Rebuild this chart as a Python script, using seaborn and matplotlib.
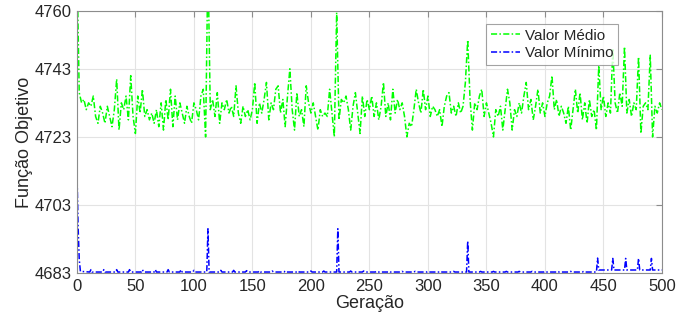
import numpy as np
import pandas as pd
import matplotlib
matplotlib.use("Agg")
import matplotlib.pyplot as plt
import seaborn as sns

# Valor Médio, read every 2 generations (0..500)
mean_gen = list(range(0, 501, 2))
mean_val = [
    4775, 4736, 4733, 4734, 4731, 4733, 4732, 4735, 4729, 4727,
    4732, 4730, 4727, 4732, 4729, 4726, 4731, 4740, 4725, 4733,
    4731, 4735, 4728, 4741, 4729, 4724, 4735, 4730, 4737, 4729,
    4731, 4728, 4730, 4727, 4731, 4726, 4733, 4725, 4734, 4728,
    4737, 4726, 4735, 4728, 4733, 4730, 4727, 4732, 4729, 4727,
    4733, 4731, 4728, 4735, 4737, 4723, 4775, 4731, 4734, 4729,
    4736, 4727, 4733, 4731, 4734, 4730, 4732, 4729, 4738, 4730,
    4727, 4732, 4729, 4731, 4728, 4731, 4739, 4727, 4733, 4730,
    4734, 4739, 4728, 4733, 4731, 4737, 4738, 4730, 4734, 4726,
    4735, 4743, 4731, 4725, 4736, 4729, 4731, 4726, 4738, 4733,
    4730, 4733, 4729, 4725, 4731, 4729, 4730, 4729, 4737, 4730,
    4723, 4759.5, 4728, 4734, 4733, 4735, 4731, 4725, 4732, 4736,
    4730, 4724, 4735, 4729, 4734, 4731, 4735, 4729, 4733, 4728,
    4732, 4739, 4729, 4733, 4728, 4737, 4730, 4734, 4731, 4733,
    4729, 4723, 4727, 4726, 4731, 4737, 4733, 4730, 4737, 4731,
    4735, 4729, 4732, 4731, 4729, 4731, 4726, 4732, 4735, 4736,
    4730, 4732, 4729, 4733, 4730, 4732, 4739, 4751.5, 4734, 4725,
    4733, 4731, 4735, 4737, 4729, 4733, 4730, 4727, 4723, 4731,
    4729, 4732, 4725, 4731, 4737, 4733, 4725, 4731, 4729, 4733,
    4730, 4735, 4739, 4731, 4734, 4728, 4732, 4737, 4730, 4733,
    4729, 4733, 4735, 4741, 4731, 4734, 4729, 4732, 4730, 4727,
    4732, 4725, 4731, 4737, 4730, 4736, 4728, 4733, 4727, 4734,
    4729, 4731, 4725, 4744, 4731, 4735, 4729, 4733, 4730, 4749,
    4733, 4730, 4736, 4732, 4749.5, 4730, 4734, 4729, 4733, 4731,
    4746.5, 4724, 4732, 4733, 4731, 4747, 4723, 4732, 4730, 4733,
    4731,
]

# Valor Mínimo, polyline vertices
min_gen = [0, 1, 2, 3,
           11, 12, 13, 22, 23, 24, 33, 34, 35, 44, 45, 46, 55, 56, 57,
           66, 67, 68, 77, 78, 79, 88, 89, 90, 99, 100, 101,
           111, 112, 113, 122, 123, 124, 133, 134, 135, 144, 145, 146,
           155, 156, 157, 166, 167, 168, 177, 178, 179, 188, 189, 190,
           199, 200, 201, 210, 211, 212, 222, 223, 224,
           233, 234, 235, 244, 245, 246, 255, 256, 257, 266, 267, 268,
           277, 278, 279, 288, 289, 290, 299, 300, 301, 310, 311, 312,
           321, 322, 323, 333, 334, 335, 344, 345, 346, 355, 356, 357,
           366, 367, 368, 377, 378, 379, 388, 389, 390, 399, 400, 401,
           410, 411, 412, 421, 422, 423, 432, 433, 434,
           444, 445, 446, 447, 457, 458, 459, 468, 469, 470,
           479, 480, 481, 490, 491, 492, 500]
min_val = [4714, 4697, 4687, 4683.5,
           4683.3, 4684.0, 4683.3, 4683.3, 4684.0, 4683.3, 4683.3, 4684.0, 4683.3,
           4683.3, 4684.0, 4683.3, 4683.3, 4684.0, 4683.3,
           4683.3, 4684.0, 4683.3, 4683.3, 4684.0, 4683.3, 4683.3, 4684.0, 4683.3,
           4683.3, 4683.8, 4683.3,
           4683.3, 4696.0, 4683.3, 4683.3, 4683.8, 4683.3, 4683.3, 4683.8, 4683.3,
           4683.3, 4683.7, 4683.3, 4683.3, 4683.7, 4683.3, 4683.3, 4683.6, 4683.3,
           4683.3, 4683.6, 4683.3, 4683.3, 4683.6, 4683.3,
           4683.3, 4683.6, 4683.3, 4683.3, 4683.6, 4683.3, 4683.3, 4696.0, 4683.3,
           4683.3, 4683.6, 4683.3, 4683.3, 4683.6, 4683.3, 4683.3, 4683.5, 4683.3,
           4683.3, 4683.5, 4683.3, 4683.3, 4683.5, 4683.3, 4683.3, 4683.5, 4683.3,
           4683.3, 4683.5, 4683.3, 4683.3, 4683.5, 4683.3,
           4683.3, 4683.5, 4683.3, 4683.3, 4692.4, 4683.3, 4683.3, 4683.5, 4683.3,
           4683.3, 4683.5, 4683.3,
           4683.3, 4683.5, 4683.3, 4683.3, 4683.5, 4683.3, 4683.3, 4683.5, 4683.3,
           4683.3, 4683.5, 4683.3,
           4683.3, 4683.5, 4683.3, 4683.3, 4683.5, 4683.3, 4683.3, 4683.5, 4683.3,
           4683.3, 4687.4, 4683.9, 4683.9, 4683.9, 4687.3, 4683.9, 4683.9, 4687.3, 4683.9,
           4683.9, 4687.3, 4683.9, 4683.9, 4687.3, 4683.9, 4683.9]

mean_df = pd.DataFrame({"Geração": mean_gen, "valor": mean_val})
min_df = pd.DataFrame({"Geração": min_gen, "valor": min_val})

sns.set_style("whitegrid")
plt.rcParams["font.family"] = ["Liberation Sans", "DejaVu Sans"]

fig = plt.figure(figsize=(6.99, 3.22), dpi=100)
ax = fig.add_axes([0.110, 0.152, 0.837, 0.814])

dashdot = (0, (4, 1.5, 1, 1.5))
sns.lineplot(data=mean_df, x="Geração", y="valor", ax=ax, color="#00ff00",
             linestyle=dashdot, linewidth=1.1, label="Valor Médio")
sns.lineplot(data=min_df, x="Geração", y="valor", ax=ax, color="#0000ff",
             linestyle=dashdot, linewidth=1.1, label="Valor Mínimo")

ax.set_xlim(0, 500)
ax.set_ylim(4683, 4760)
ax.set_xticks(range(0, 501, 50))
ax.set_yticks([4683, 4703, 4723, 4743, 4760])
ax.grid(True, color="#e3e3e3", linewidth=0.8)
for s in ax.spines.values():
    s.set_color("#8c8c8c")
    s.set_linewidth(0.8)
ax.tick_params(direction="in", top=True, right=True, length=4,
               color="#8c8c8c", labelsize=12, labelcolor="#262626", pad=4)
ax.set_xlabel("Geração", fontsize=13, color="#262626", labelpad=1)
ax.set_ylabel("Função Objetivo", fontsize=13, color="#262626", labelpad=1)

leg = ax.legend(loc="upper left", bbox_to_anchor=(0.70, 0.95), fontsize=11,
                frameon=True, fancybox=False, handlelength=1.9,
                borderpad=0.3, labelspacing=0.25, handletextpad=0.3,
                borderaxespad=0)
leg.get_frame().set_edgecolor("#8c8c8c")
leg.get_frame().set_linewidth(0.8)

fig.savefig("out.png", dpi=100)
